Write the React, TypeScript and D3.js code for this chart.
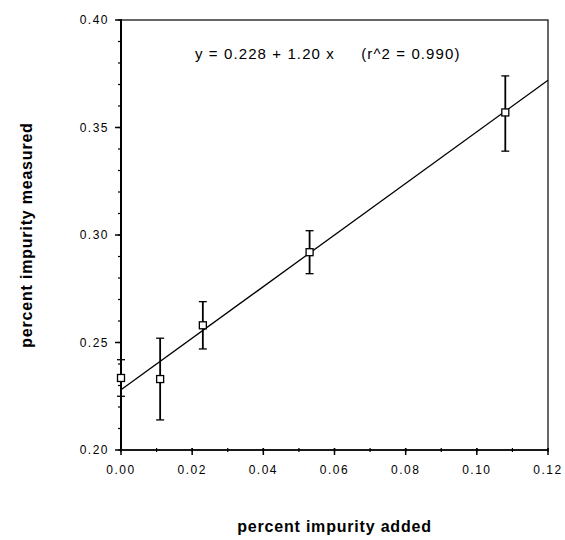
import React, { useEffect, useRef } from 'react';
import * as d3 from 'd3';

// values
const added = [0, 0.011, 0.023, 0.053, 0.108];
const measured = [0.2335, 0.233, 0.258, 0.292, 0.357];
const errLow = [0.225, 0.214, 0.247, 0.282, 0.339];
const errHigh = [0.242, 0.252, 0.269, 0.302, 0.374];
const xTicks = [0, 0.02, 0.04, 0.06, 0.08, 0.1, 0.12];
const yTicks = [0.2, 0.25, 0.3, 0.35, 0.4];
const intercept = 0.228;
const slope = 1.2;
const equation = 'y = 0.228 + 1.20 x     (r^2 = 0.990)';

const App = () => {
  const svgRef = useRef<SVGSVGElement>(null);

  useEffect(() => {
    const margin = { top: 20, right: 17, bottom: 90, left: 121 };
    const W = 565;
    const H = 540;
    const width = W - margin.left - margin.right;
    const height = H - margin.top - margin.bottom;
    const font = 'Liberation Sans, Arial, sans-serif';

    const root = d3.select(svgRef.current);
    root.selectAll('*').remove();
    const svg = root.append('g').attr('transform', `translate(${margin.left},${margin.top})`);

    const x = d3.scaleLinear().domain([0, 0.12]).range([0, width]);
    const y = d3.scaleLinear().domain([0.2, 0.4]).range([height, 0]);

    // minor ticks every 0.01
    const xMinor = d3.range(0, 0.1201, 0.01);
    const yMinor = d3.range(0.2, 0.4001, 0.01);

    svg.append('g').selectAll('line').data(xMinor).join('line')
      .attr('x1', (d) => x(d)).attr('x2', (d) => x(d))
      .attr('y1', height - 2).attr('y2', height + 2)
      .attr('stroke', '#000').attr('stroke-width', 1.2);
    svg.append('g').selectAll('line').data(yMinor).join('line')
      .attr('y1', (d) => y(d)).attr('y2', (d) => y(d))
      .attr('x1', -3).attr('x2', 1)
      .attr('stroke', '#000').attr('stroke-width', 1.2);

    // major ticks
    svg.append('g').selectAll('line').data(xTicks).join('line')
      .attr('x1', (d) => x(d)).attr('x2', (d) => x(d))
      .attr('y1', height - 2).attr('y2', height + 5)
      .attr('stroke', '#000').attr('stroke-width', 1.5);
    svg.append('g').selectAll('line').data(yTicks).join('line')
      .attr('y1', (d) => y(d)).attr('y2', (d) => y(d))
      .attr('x1', -6).attr('x2', 1)
      .attr('stroke', '#000').attr('stroke-width', 1.5);

    // frame
    svg.append('rect').attr('width', width).attr('height', height)
      .attr('fill', 'none').attr('stroke', '#000').attr('stroke-width', 1.2);
    svg.append('line').attr('x1', 0).attr('x2', 0).attr('y1', 0).attr('y2', height)
      .attr('stroke', '#000').attr('stroke-width', 2);
    svg.append('line').attr('x1', 0).attr('x2', width).attr('y1', height).attr('y2', height)
      .attr('stroke', '#000').attr('stroke-width', 1.6);

    // tick labels
    svg.append('g').selectAll('text').data(xTicks).join('text')
      .attr('x', (d) => x(d)).attr('y', height + 24)
      .attr('text-anchor', 'middle')
      .style('font', `12px ${font}`).style('letter-spacing', '1.5px')
      .text((d) => d3.format('.2f')(d));
    svg.append('g').selectAll('text').data(yTicks).join('text')
      .attr('x', -12).attr('y', (d) => y(d)).attr('dy', '0.35em')
      .attr('text-anchor', 'end')
      .style('font', `12px ${font}`).style('letter-spacing', '1.5px')
      .text((d) => d3.format('.2f')(d));

    // fit line
    svg.append('line')
      .attr('x1', x(0)).attr('y1', y(intercept))
      .attr('x2', x(0.12)).attr('y2', y(intercept + slope * 0.12))
      .attr('stroke', '#000').attr('stroke-width', 1.3);

    const pts = added.map((a, i) => ({ a, m: measured[i], lo: errLow[i], hi: errHigh[i] }));

    // error bars
    const eb = svg.append('g').selectAll('g').data(pts).join('g');
    eb.append('line')
      .attr('x1', (d) => x(d.a)).attr('x2', (d) => x(d.a))
      .attr('y1', (d) => y(d.lo)).attr('y2', (d) => y(d.hi))
      .attr('stroke', '#000').attr('stroke-width', 1.8);
    eb.append('line')
      .attr('x1', (d) => x(d.a) - 4).attr('x2', (d) => x(d.a) + 4)
      .attr('y1', (d) => y(d.lo)).attr('y2', (d) => y(d.lo))
      .attr('stroke', '#000').attr('stroke-width', 1.3);
    eb.append('line')
      .attr('x1', (d) => x(d.a) - 4).attr('x2', (d) => x(d.a) + 4)
      .attr('y1', (d) => y(d.hi)).attr('y2', (d) => y(d.hi))
      .attr('stroke', '#000').attr('stroke-width', 1.3);

    // markers
    svg.append('g').selectAll('rect').data(pts).join('rect')
      .attr('x', (d) => x(d.a) - 3.5).attr('y', (d) => y(d.m) - 3.5)
      .attr('width', 7).attr('height', 7)
      .attr('fill', '#fff').attr('stroke', '#000').attr('stroke-width', 1.3);

    // equation
    svg.append('text')
      .attr('x', 74).attr('y', 39)
      .attr('xml:space', 'preserve')
      .style('white-space', 'pre')
      .style('font', `15px ${font}`).style('letter-spacing', '1.1px')
      .text(equation);

    // axis titles
    svg.append('text')
      .attr('x', width / 2).attr('y', height + 82)
      .attr('text-anchor', 'middle')
      .style('font', `bold 16px ${font}`).style('letter-spacing', '0.8px')
      .text('percent impurity added');
    svg.append('text')
      .attr('transform', `translate(${-89},${height / 2}) rotate(-90)`)
      .attr('text-anchor', 'middle')
      .style('font', `bold 16px ${font}`).style('letter-spacing', '0.8px')
      .text('percent impurity measured');
  }, []);

  return (
    <svg
      ref={svgRef}
      width={565}
      height={540}
      style={{ position: 'absolute', left: 0, top: 0, background: '#fff' }}
    />
  );
};

export default App;
